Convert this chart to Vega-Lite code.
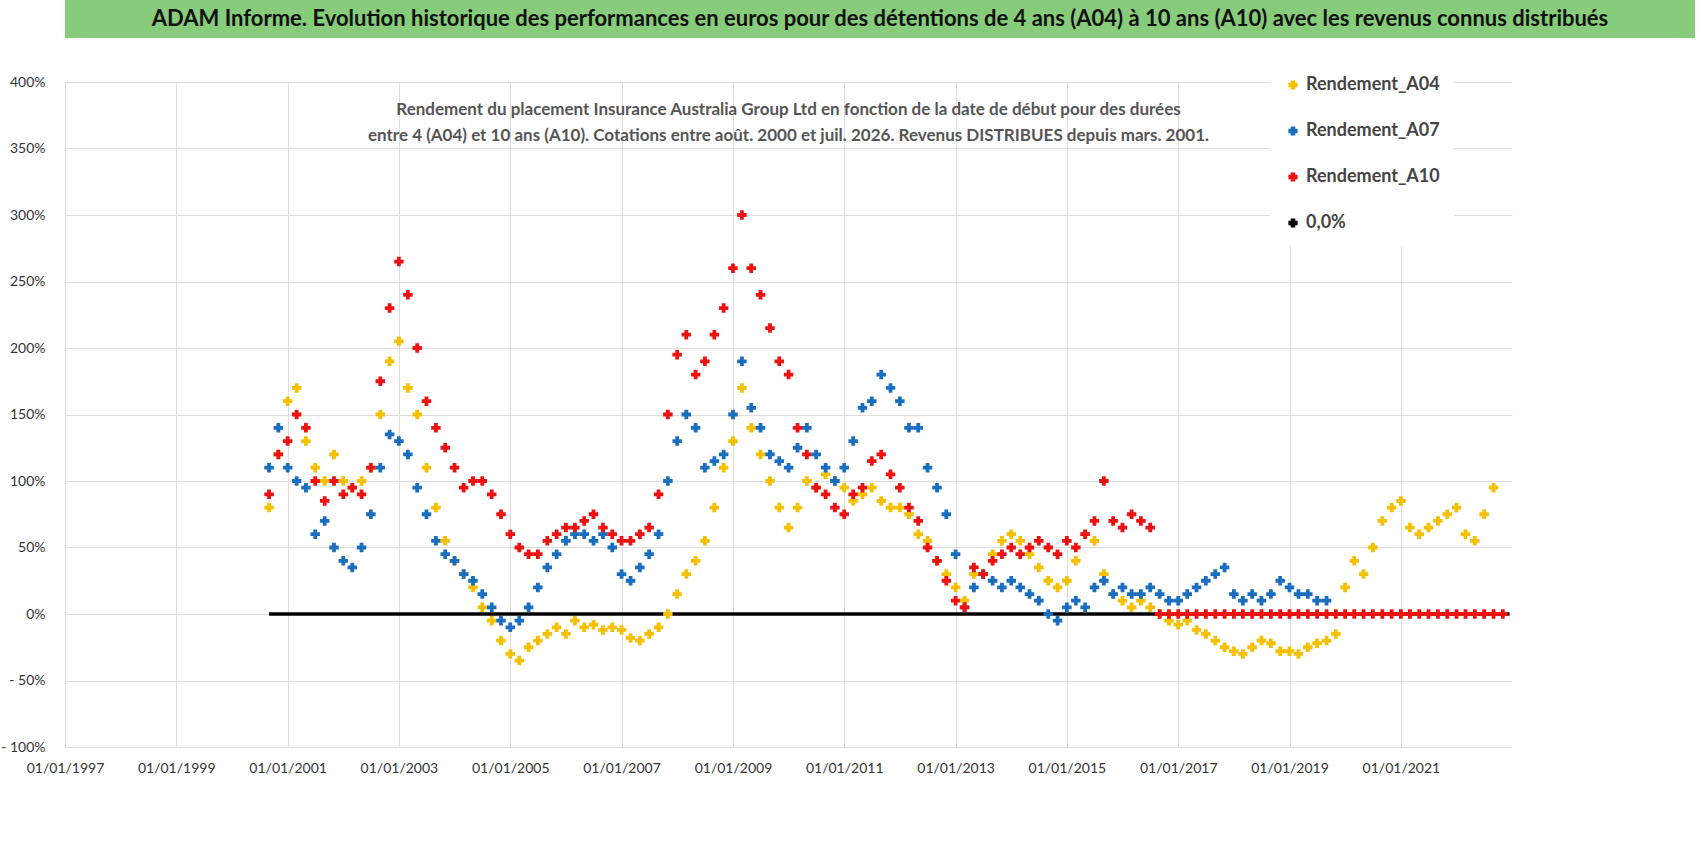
{
  "$schema": "https://vega.github.io/schema/vega-lite/v6.json",
  "padding": 0,
  "spacing": 37,
  "background": "white",
  "config": {"font": "Lato", "view": {"stroke": null}},
  "datasets": {
    "banner": [{"t": "ADAM Informe. Evolution historique des performances en euros pour des détentions de 4 ans (A04) à 10 ans (A10) avec les revenus connus distribués"}],
    "zero": [{"d": "2000-09-01", "v": 0, "s": "0,0%"}, {"d": "2022-12-15", "v": 0, "s": "0,0%"}],
    "perf": [
      {"d":"2000-09-01","A04":80,"A07":110,"A10":90},
      {"d":"2000-11-01","A04":120,"A07":140,"A10":120},
      {"d":"2001-01-01","A04":160,"A07":110,"A10":130},
      {"d":"2001-03-01","A04":170,"A07":100,"A10":150},
      {"d":"2001-05-01","A04":130,"A07":95,"A10":140},
      {"d":"2001-07-01","A04":110,"A07":60,"A10":100},
      {"d":"2001-09-01","A04":100,"A07":70,"A10":85},
      {"d":"2001-11-01","A04":120,"A07":50,"A10":100},
      {"d":"2002-01-01","A04":100,"A07":40,"A10":90},
      {"d":"2002-03-01","A04":95,"A07":35,"A10":95},
      {"d":"2002-05-01","A04":100,"A07":50,"A10":90},
      {"d":"2002-07-01","A04":110,"A07":75,"A10":110},
      {"d":"2002-09-01","A04":150,"A07":110,"A10":175},
      {"d":"2002-11-01","A04":190,"A07":135,"A10":230},
      {"d":"2003-01-01","A04":205,"A07":130,"A10":265},
      {"d":"2003-03-01","A04":170,"A07":120,"A10":240},
      {"d":"2003-05-01","A04":150,"A07":95,"A10":200},
      {"d":"2003-07-01","A04":110,"A07":75,"A10":160},
      {"d":"2003-09-01","A04":80,"A07":55,"A10":140},
      {"d":"2003-11-01","A04":55,"A07":45,"A10":125},
      {"d":"2004-01-01","A04":40,"A07":40,"A10":110},
      {"d":"2004-03-01","A04":30,"A07":30,"A10":95},
      {"d":"2004-05-01","A04":20,"A07":25,"A10":100},
      {"d":"2004-07-01","A04":5,"A07":15,"A10":100},
      {"d":"2004-09-01","A04":-5,"A07":5,"A10":90},
      {"d":"2004-11-01","A04":-20,"A07":-5,"A10":75},
      {"d":"2005-01-01","A04":-30,"A07":-10,"A10":60},
      {"d":"2005-03-01","A04":-35,"A07":-5,"A10":50},
      {"d":"2005-05-01","A04":-25,"A07":5,"A10":45},
      {"d":"2005-07-01","A04":-20,"A07":20,"A10":45},
      {"d":"2005-09-01","A04":-15,"A07":35,"A10":55},
      {"d":"2005-11-01","A04":-10,"A07":45,"A10":60},
      {"d":"2006-01-01","A04":-15,"A07":55,"A10":65},
      {"d":"2006-03-01","A04":-5,"A07":60,"A10":65},
      {"d":"2006-05-01","A04":-10,"A07":60,"A10":70},
      {"d":"2006-07-01","A04":-8,"A07":55,"A10":75},
      {"d":"2006-09-01","A04":-12,"A07":60,"A10":65},
      {"d":"2006-11-01","A04":-10,"A07":50,"A10":60},
      {"d":"2007-01-01","A04":-12,"A07":30,"A10":55},
      {"d":"2007-03-01","A04":-18,"A07":25,"A10":55},
      {"d":"2007-05-01","A04":-20,"A07":35,"A10":60},
      {"d":"2007-07-01","A04":-15,"A07":45,"A10":65},
      {"d":"2007-09-01","A04":-10,"A07":60,"A10":90},
      {"d":"2007-11-01","A04":0,"A07":100,"A10":150},
      {"d":"2008-01-01","A04":15,"A07":130,"A10":195},
      {"d":"2008-03-01","A04":30,"A07":150,"A10":210},
      {"d":"2008-05-01","A04":40,"A07":140,"A10":180},
      {"d":"2008-07-01","A04":55,"A07":110,"A10":190},
      {"d":"2008-09-01","A04":80,"A07":115,"A10":210},
      {"d":"2008-11-01","A04":110,"A07":120,"A10":230},
      {"d":"2009-01-01","A04":130,"A07":150,"A10":260},
      {"d":"2009-03-01","A04":170,"A07":190,"A10":300},
      {"d":"2009-05-01","A04":140,"A07":155,"A10":260},
      {"d":"2009-07-01","A04":120,"A07":140,"A10":240},
      {"d":"2009-09-01","A04":100,"A07":120,"A10":215},
      {"d":"2009-11-01","A04":80,"A07":115,"A10":190},
      {"d":"2010-01-01","A04":65,"A07":110,"A10":180},
      {"d":"2010-03-01","A04":80,"A07":125,"A10":140},
      {"d":"2010-05-01","A04":100,"A07":140,"A10":120},
      {"d":"2010-07-01","A04":95,"A07":120,"A10":95},
      {"d":"2010-09-01","A04":105,"A07":110,"A10":90},
      {"d":"2010-11-01","A04":100,"A07":100,"A10":80},
      {"d":"2011-01-01","A04":95,"A07":110,"A10":75},
      {"d":"2011-03-01","A04":85,"A07":130,"A10":90},
      {"d":"2011-05-01","A04":90,"A07":155,"A10":95},
      {"d":"2011-07-01","A04":95,"A07":160,"A10":115},
      {"d":"2011-09-01","A04":85,"A07":180,"A10":120},
      {"d":"2011-11-01","A04":80,"A07":170,"A10":105},
      {"d":"2012-01-01","A04":80,"A07":160,"A10":95},
      {"d":"2012-03-01","A04":75,"A07":140,"A10":80},
      {"d":"2012-05-01","A04":60,"A07":140,"A10":70},
      {"d":"2012-07-01","A04":55,"A07":110,"A10":50},
      {"d":"2012-09-01","A04":40,"A07":95,"A10":40},
      {"d":"2012-11-01","A04":30,"A07":75,"A10":25},
      {"d":"2013-01-01","A04":20,"A07":45,"A10":10},
      {"d":"2013-03-01","A04":10,"A07":5,"A10":5},
      {"d":"2013-05-01","A04":30,"A07":20,"A10":35},
      {"d":"2013-07-01","A04":30,"A07":30,"A10":30},
      {"d":"2013-09-01","A04":45,"A07":25,"A10":40},
      {"d":"2013-11-01","A04":55,"A07":20,"A10":45},
      {"d":"2014-01-01","A04":60,"A07":25,"A10":50},
      {"d":"2014-03-01","A04":55,"A07":20,"A10":45},
      {"d":"2014-05-01","A04":45,"A07":15,"A10":50},
      {"d":"2014-07-01","A04":35,"A07":10,"A10":55},
      {"d":"2014-09-01","A04":25,"A07":0,"A10":50},
      {"d":"2014-11-01","A04":20,"A07":-5,"A10":45},
      {"d":"2015-01-01","A04":25,"A07":5,"A10":55},
      {"d":"2015-03-01","A04":40,"A07":10,"A10":50},
      {"d":"2015-05-01","A04":60,"A07":5,"A10":60},
      {"d":"2015-07-01","A04":55,"A07":20,"A10":70},
      {"d":"2015-09-01","A04":30,"A07":25,"A10":100},
      {"d":"2015-11-01","A04":15,"A07":15,"A10":70},
      {"d":"2016-01-01","A04":10,"A07":20,"A10":65},
      {"d":"2016-03-01","A04":5,"A07":15,"A10":75},
      {"d":"2016-05-01","A04":10,"A07":15,"A10":70},
      {"d":"2016-07-01","A04":5,"A07":20,"A10":65},
      {"d":"2016-09-01","A04":0,"A07":15,"A10":0},
      {"d":"2016-11-01","A04":-5,"A07":10,"A10":0},
      {"d":"2017-01-01","A04":-8,"A07":10,"A10":0},
      {"d":"2017-03-01","A04":-5,"A07":15,"A10":0},
      {"d":"2017-05-01","A04":-12,"A07":20,"A10":0},
      {"d":"2017-07-01","A04":-15,"A07":25,"A10":0},
      {"d":"2017-09-01","A04":-20,"A07":30,"A10":0},
      {"d":"2017-11-01","A04":-25,"A07":35,"A10":0},
      {"d":"2018-01-01","A04":-28,"A07":15,"A10":0},
      {"d":"2018-03-01","A04":-30,"A07":10,"A10":0},
      {"d":"2018-05-01","A04":-25,"A07":15,"A10":0},
      {"d":"2018-07-01","A04":-20,"A07":10,"A10":0},
      {"d":"2018-09-01","A04":-22,"A07":15,"A10":0},
      {"d":"2018-11-01","A04":-28,"A07":25,"A10":0},
      {"d":"2019-01-01","A04":-28,"A07":20,"A10":0},
      {"d":"2019-03-01","A04":-30,"A07":15,"A10":0},
      {"d":"2019-05-01","A04":-25,"A07":15,"A10":0},
      {"d":"2019-07-01","A04":-22,"A07":10,"A10":0},
      {"d":"2019-09-01","A04":-20,"A07":10,"A10":0},
      {"d":"2019-11-01","A04":-15,"A10":0},
      {"d":"2020-01-01","A04":20,"A10":0},
      {"d":"2020-03-01","A04":40,"A10":0},
      {"d":"2020-05-01","A04":30,"A10":0},
      {"d":"2020-07-01","A04":50,"A10":0},
      {"d":"2020-09-01","A04":70,"A10":0},
      {"d":"2020-11-01","A04":80,"A10":0},
      {"d":"2021-01-01","A04":85,"A10":0},
      {"d":"2021-03-01","A04":65,"A10":0},
      {"d":"2021-05-01","A04":60,"A10":0},
      {"d":"2021-07-01","A04":65,"A10":0},
      {"d":"2021-09-01","A04":70,"A10":0},
      {"d":"2021-11-01","A04":75,"A10":0},
      {"d":"2022-01-01","A04":80,"A10":0},
      {"d":"2022-03-01","A04":60,"A10":0},
      {"d":"2022-05-01","A04":55,"A10":0},
      {"d":"2022-07-01","A04":75,"A10":0},
      {"d":"2022-09-01","A04":95,"A10":0},
      {"d":"2022-11-01","A10":0}
    ]
  },
  "vconcat": [
    {
      "width": 1630,
      "height": 38,
      "view": {"fill": "#86cc7a", "stroke": null},
      "data": {"name": "banner"},
      "mark": {"type": "text", "fontSize": 22, "fontWeight": "bold", "color": "#111", "font": "Lato"},
      "encoding": {"text": {"field": "t"}}
    },
    {
      "width": 1447,
      "height": 665,
      "title": {
        "text": ["Rendement du placement Insurance Australia Group Ltd en fonction de la date de début pour des durées", "entre 4 (A04) et 10 ans (A10).  Cotations entre août. 2000 et juil. 2026. Revenus DISTRIBUES depuis mars. 2001."],
        "fontSize": 17, "fontWeight": "bold", "color": "#555", "lineHeight": 26, "anchor": "middle", "offset": -70, "font": "Lato"
      },
      "layer": [
        {
          "data": {"name": "zero"},
          "mark": {"type": "line", "strokeWidth": 3.5},
          "encoding": {
            "x": {"field": "d", "type": "temporal"},
            "y": {"field": "v", "type": "quantitative"},
            "color": {"field": "s", "type": "nominal"}
          }
        },
        {
          "data": {"name": "perf"},
          "transform": [
            {"fold": ["A04", "A07", "A10"], "as": ["serie", "v"]},
            {"filter": "isValid(datum.v)"}
          ],
          "mark": {"type": "point", "shape": "cross", "filled": true, "size": 90, "opacity": 1},
          "encoding": {
            "x": {
              "field": "d", "type": "temporal",
              "scale": {"domain": ["1997-01-01", "2022-12-31"]},
              "axis": {
                "title": null, "format": "%d/%m/%Y", "labelAngle": 0, "labelFontSize": 14, "labelColor": "#333", "labelOverlap": false, "labelFlush": false,
                "values": ["1997-01-01","1999-01-01","2001-01-01","2003-01-01","2005-01-01","2007-01-01","2009-01-01","2011-01-01","2013-01-01","2015-01-01","2017-01-01","2019-01-01","2021-01-01"],
                "grid": true, "gridColor": "#dddddd", "domain": false, "ticks": false, "labelPadding": 14
              }
            },
            "y": {
              "field": "v", "type": "quantitative",
              "scale": {"domain": [-100, 400], "nice": false},
              "axis": {
                "title": null, "values": [-100,-50,0,50,100,150,200,250,300,350,400],
                "labelExpr": "datum.value < 0 ? '- ' + abs(datum.value) + '%' : datum.value + '%'",
                "labelFontSize": 14, "labelColor": "#333", "gridColor": "#dddddd", "domain": false, "ticks": false, "labelPadding": 20
              }
            },
            "color": {
              "field": "serie", "type": "nominal",
              "scale": {"domain": ["A04", "A07", "A10", "0,0%"], "range": ["#f5c000", "#1a6ebf", "#ee1111", "#000000"]},
              "legend": {
                "title": null, "orient": "none", "legendX": 1205, "legendY": 62,
                "labelExpr": "datum.label == '0,0%' ? datum.label : 'Rendement_' + datum.label",
                "labelFontSize": 18, "labelFont": "Lato", "labelFontWeight": "bold", "labelColor": "#444", "symbolType": "cross", "symbolSize": 60,
                "rowPadding": 28, "fillColor": "white", "padding": 14
              }
            }
          }
        }
      ]
    }
  ]
}
